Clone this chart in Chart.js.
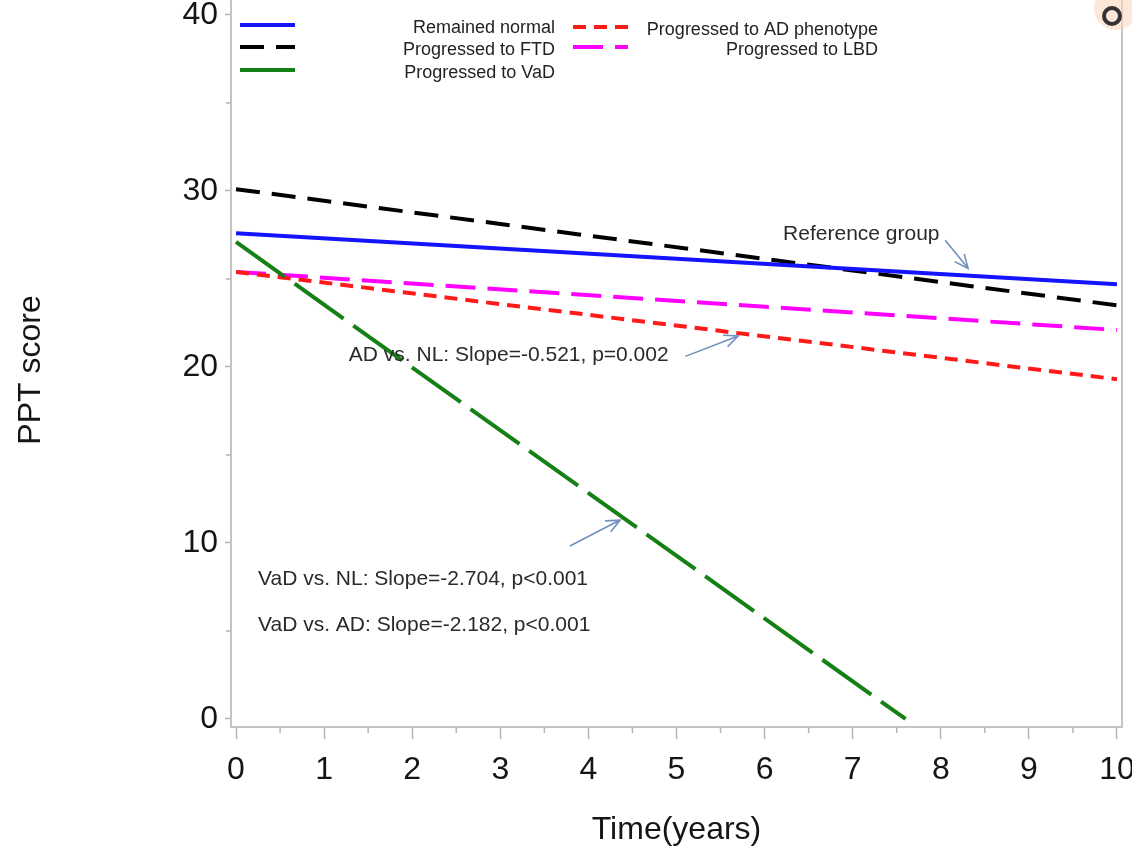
<!DOCTYPE html>
<html><head><meta charset="utf-8">
<script src="https://cdn.jsdelivr.net/npm/chart.js@4/dist/chart.umd.min.js"></script>
<style>
html,body{margin:0;padding:0;background:#fff;overflow:hidden;width:1132px;height:849px;}
#wrap{position:absolute;left:0;top:-8px;width:1132px;height:857px;}
</style></head><body>
<div id="wrap"><canvas id="c"></canvas></div>
<script>
// ---- data ----
const years = [0, 10];
const vadYears = [0, 7.6];
const normalScores = [27.6, 24.7];
const ftdScores = [30.1, 23.5];
const vadScores = [27.1, 0];
const adScores = [25.4, 19.3];
const lbdScores = [25.4, 22.1];
const xTicks = [0, 1, 2, 3, 4, 5, 6, 7, 8, 9, 10];
const yTicks = [0, 10, 20, 30, 40];
const xMinorTicks = [0.5, 1.5, 2.5, 3.5, 4.5, 5.5, 6.5, 7.5, 8.5, 9.5];
const yMinorTicks = [5, 15, 25, 35];
const seriesLabels = ['Remained normal', 'Progressed to FTD', 'Progressed to VaD', 'Progressed to AD phenotype', 'Progressed to LBD'];
const noteTexts = ['Reference group', 'AD vs. NL: Slope=-0.521, p=0.002', 'VaD vs. NL: Slope=-2.704, p<0.001', 'VaD vs. AD: Slope=-2.182, p<0.001'];
const yTitle = 'PPT score';
const xTitle = 'Time(years)';

const pts = (xs, ys) => xs.map((x, i) => ({x: x, y: ys[i]}));

// ---- styling / layout (not data) ----
const OFF = 8; // canvas is shifted up by 8px
const FONT = 'Liberation Sans, Arial, Helvetica, sans-serif';
const noteLayout = [
  {x: 6.21, y: 27.56},
  {x: 1.28, y: 20.68},
  {x: 0.25, y: 7.95},
  {x: 0.25, y: 5.34}
];
const arrowLayout = [
  {x1: 8.05, y1: 27.2, x2: 8.31, y2: 25.6},
  {x1: 5.10, y1: 20.6, x2: 5.70, y2: 21.76},
  {x1: 3.79, y1: 9.83, x2: 4.36, y2: 11.3}
];
// legend layout in page px
const legendLayout = [
  {i: 0, x1: 240, x2: 295, y: 25, tx: 555},
  {i: 1, x1: 240, x2: 295, y: 47, tx: 555},
  {i: 2, x1: 240, x2: 295, y: 70, tx: 555},
  {i: 3, x1: 573, x2: 628, y: 27, tx: 878},
  {i: 4, x1: 573, x2: 628, y: 47, tx: 878}
];

const extras = {
  id: 'extras',
  afterDraw(chart) {
    const ctx = chart.ctx, ca = chart.chartArea;
    const xs = chart.scales.x, ys = chart.scales.y;
    ctx.save();
    // right frame line
    ctx.strokeStyle = '#c4c4c4'; ctx.lineWidth = 2;
    ctx.beginPath(); ctx.moveTo(ca.right, ca.top); ctx.lineTo(ca.right, ca.bottom + 1); ctx.stroke();
    // minor ticks
    ctx.strokeStyle = '#b4b4b4'; ctx.lineWidth = 1.5;
    xMinorTicks.forEach(v => {
      const px = xs.getPixelForValue(v);
      ctx.beginPath(); ctx.moveTo(px, ca.bottom); ctx.lineTo(px, ca.bottom + 6); ctx.stroke();
    });
    yMinorTicks.forEach(v => {
      const py = ys.getPixelForValue(v);
      ctx.beginPath(); ctx.moveTo(ca.left, py); ctx.lineTo(ca.left - 5, py); ctx.stroke();
    });
    // y title
    ctx.save();
    ctx.translate(31, 370 + OFF); ctx.rotate(-Math.PI / 2);
    ctx.font = '32px ' + FONT; ctx.fillStyle = '#151515';
    ctx.textAlign = 'center'; ctx.textBaseline = 'middle';
    ctx.fillText(yTitle, 0, 0);
    ctx.restore();
    // legend
    ctx.font = '18px ' + FONT;
    ctx.textAlign = 'right'; ctx.textBaseline = 'middle';
    legendLayout.forEach(L => {
      const ds = chart.data.datasets[L.i];
      ctx.strokeStyle = ds.borderColor; ctx.lineWidth = 4; ctx.lineCap = 'butt';
      ctx.setLineDash(ds.borderDash || []);
      ctx.beginPath(); ctx.moveTo(L.x1, L.y + OFF); ctx.lineTo(L.x2, L.y + OFF); ctx.stroke();
      ctx.setLineDash([]);
      ctx.fillStyle = '#222';
      ctx.fillText(seriesLabels[L.i], L.tx, L.y + OFF + 3);
    });
    // annotations
    ctx.font = '21px ' + FONT; ctx.textAlign = 'left'; ctx.fillStyle = '#2a2a2a';
    noteTexts.forEach((t, k) => {
      ctx.fillText(t, xs.getPixelForValue(noteLayout[k].x), ys.getPixelForValue(noteLayout[k].y));
    });
    ctx.strokeStyle = '#6f8fbf'; ctx.lineWidth = 1.6;
    arrowLayout.forEach(a => {
      const x1 = xs.getPixelForValue(a.x1), y1 = ys.getPixelForValue(a.y1);
      const x2 = xs.getPixelForValue(a.x2), y2 = ys.getPixelForValue(a.y2);
      const ang = Math.atan2(y2 - y1, x2 - x1), h = 15, sp = 0.42;
      ctx.beginPath(); ctx.moveTo(x1, y1); ctx.lineTo(x2, y2);
      ctx.moveTo(x2 - h * Math.cos(ang - sp), y2 - h * Math.sin(ang - sp)); ctx.lineTo(x2, y2);
      ctx.lineTo(x2 - h * Math.cos(ang + sp), y2 - h * Math.sin(ang + sp));
      ctx.stroke();
    });
    // corner badge artifact
    ctx.fillStyle = 'rgba(250,215,190,0.6)';
    ctx.beginPath(); ctx.arc(1116, 8 + OFF, 22, 0, Math.PI * 2); ctx.fill();
    ctx.strokeStyle = '#333'; ctx.lineWidth = 4;
    ctx.beginPath(); ctx.arc(1112, 16 + OFF, 8, 0, Math.PI * 2); ctx.stroke();
    ctx.restore();
  }
};

new Chart(document.getElementById('c'), {
  type: 'line',
  data: {
    datasets: [
      {label: seriesLabels[0], data: pts(years, normalScores), borderColor: '#1414ff', borderWidth: 4},
      {label: seriesLabels[1], data: pts(years, ftdScores), borderColor: '#000000', borderWidth: 4, borderDash: [24, 12]},
      {label: seriesLabels[2], data: pts(vadYears, vadScores), borderColor: '#158015', borderWidth: 4, borderDash: [60, 12]},
      {label: seriesLabels[3], data: pts(years, adScores), borderColor: '#ff1a1a', borderWidth: 4, borderDash: [13, 8]},
      {label: seriesLabels[4], data: pts(years, lbdScores), borderColor: '#ff00ff', borderWidth: 4, borderDash: [30, 12]}
    ]
  },
  options: {
    responsive: true, maintainAspectRatio: false, animation: false,
    layout: {padding: {left: 0, right: 10, top: 0, bottom: 0}},
    elements: {point: {radius: 0}, line: {tension: 0, borderCapStyle: 'butt'}},
    plugins: {legend: {display: false}, tooltip: {enabled: false}},
    scales: {
      x: {
        type: 'linear', min: -0.057, max: 10.057,
        afterBuildTicks: s => { s.ticks = xTicks.map(v => ({value: v})); },
        afterFit: s => { s.height = 122; s.paddingLeft = 0; s.paddingRight = 0; },
        grid: {display: true, drawOnChartArea: false, drawTicks: true, tickLength: 12, tickColor: '#b4b4b4', tickWidth: 1.5},
        border: {display: true, color: '#c4c4c4', width: 2},
        ticks: {autoSkip: false, maxRotation: 0, padding: 12, color: '#151515', font: {family: FONT, size: 32}, callback: v => String(v)},
        title: {display: true, text: xTitle, color: '#151515', font: {family: FONT, size: 32, lineHeight: 1.2}, padding: {top: 0, bottom: 0}}
      },
      y: {
        type: 'linear', min: -0.455, max: 41.3,
        afterBuildTicks: s => { s.ticks = yTicks.map(v => ({value: v})); },
        afterFit: s => { s.width = 231; s.paddingTop = 0; s.paddingBottom = 0; },
        grid: {display: true, drawOnChartArea: false, drawTicks: true, tickLength: 6, tickColor: '#b4b4b4', tickWidth: 1.5},
        border: {display: true, color: '#c4c4c4', width: 2},
        ticks: {padding: 7, color: '#151515', font: {family: FONT, size: 32}, callback: v => String(v)},
        title: {display: false}
      }
    }
  },
  plugins: [extras]
});
</script>
</body></html>
